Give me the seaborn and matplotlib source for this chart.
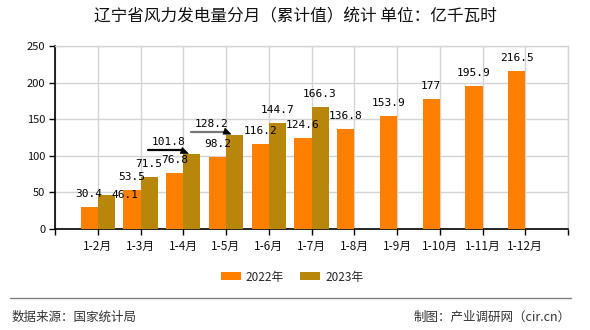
import numpy as np
import pandas as pd
import seaborn as sns
import matplotlib
matplotlib.use("Agg")
import matplotlib.pyplot as plt
from matplotlib.patches import Rectangle, Polygon
from matplotlib.lines import Line2D
from matplotlib.transforms import IdentityTransform

# ---- data ----
categories = ["1-2月", "1-3月", "1-4月", "1-5月", "1-6月", "1-7月",
              "1-8月", "1-9月", "1-10月", "1-11月", "1-12月"]
values_2022 = [30.4, 53.5, 76.8, 98.2, 116.2, 124.6, 136.8, 153.9, 177, 195.9, 216.5]
values_2023 = [46.1, 71.5, 101.8, 128.2, 144.7, 166.3, None, None, None, None, None]
series_names = ["2022年", "2023年"]
label_2022 = ["30.4", "53.5", "76.8", "98.2", "116.2", "124.6", "136.8", "153.9", "177", "195.9", "216.5"]
label_2023 = ["46.1", "71.5", "101.8", "128.2", "144.7", "166.3"]
y_ticks = [0, 50, 100, 150, 200, 250]

title = "辽宁省风力发电量分月（累计值）统计 单位：亿千瓦时"
source_text = "数据来源：国家统计局"
credit_text = "制图：产业调研网（cir.cn）"

colors = ["#FF8000", "#B8860B"]

sns.set_theme(style="white")
plt.rcParams["font.family"] = ["Noto Sans CJK SC", "DejaVu Sans"]

df = pd.DataFrame({
    "month": categories * 2,
    "value": values_2022 + values_2023,
    "year": [series_names[0]] * len(categories) + [series_names[1]] * len(categories),
})

W, H = 590, 330
fig = plt.figure(figsize=(W / 100, H / 100), dpi=100)
ax = fig.add_axes([55 / W, 1 - 229 / H, (568 - 55) / W, (229 - 46) / H])

sns.barplot(data=df, x="month", y="value", hue="year", order=categories,
            hue_order=series_names, palette=colors, width=0.8, gap=0,
            saturation=1, ax=ax, legend=False, zorder=3,
            linewidth=0, edgecolor="none")

ax.set_xlim(-1, len(categories))
ax.set_ylim(0, 250)
ax.set_yticks(y_ticks)
ax.set_yticklabels([str(v) for v in y_ticks], fontsize=8, color="#111111")
ax.set_xticks(range(-1, len(categories) + 1))
ax.set_xticklabels([""] + categories + [""], fontsize=8.5, color="#111111")
ax.set_xlabel("")
ax.set_ylabel("")
ax.tick_params(axis="both", direction="out", length=4, width=1, color="#000000", pad=3)
ax.tick_params(axis="x", pad=4)
ax.tick_params(left=True, bottom=True)

ax.grid(True, color="#d4d4d4", linewidth=1, zorder=0)
ax.set_axisbelow(True)
for s in ["top", "right"]:
    ax.spines[s].set_color("#d4d4d4")
    ax.spines[s].set_linewidth(1)
for s in ["left", "bottom"]:
    ax.spines[s].set_color("#000000")
    ax.spines[s].set_linewidth(1.2)

# value labels
px = 72 / 100  # points per pixel
bars_2022 = ax.containers[0]
bars_2023 = ax.containers[1]
lab_font = dict(family="DejaVu Sans Mono", fontsize=8, color="#000000",
                ha="center", va="center", zorder=5)
for bar, txt in zip(bars_2022, label_2022):
    cx = bar.get_x() + bar.get_width() / 2
    ax.annotate(txt, (cx, bar.get_height()), xytext=(0, 13 * px),
                textcoords="offset points", **lab_font)

offsets_2023 = [(19, 0), (0, 13), (-23, 12), (-23, 11), (0, 13), (0, 13)]
valid_2023 = [b for b in bars_2023 if not np.isnan(b.get_height()) and b.get_height() > 0]
for bar, txt, (dx, dy) in zip(valid_2023, label_2023, offsets_2023):
    cx = bar.get_x() + bar.get_width() / 2
    ax.annotate(txt, (cx, bar.get_height()), xytext=(dx * px, dy * px),
                textcoords="offset points", **lab_font)

# leader lines for displaced labels (display-pixel offsets from bar top-left)
leaders = [(2, "#000000", 4), (3, "#777777", 3)]
for idx, lc, up in leaders:
    bar = valid_2023[idx]
    bx, by = ax.transData.transform((bar.get_x(), bar.get_height()))
    fig.add_artist(Line2D([bx - 35, bx], [by + up, by + up], color=lc, linewidth=1.6,
                          transform=IdentityTransform(), zorder=6))
    tri = Polygon([(bx - 1, by + 7), (bx - 3, by + 1), (bx + 5, by + 1)], closed=True,
                  facecolor="#000000", edgecolor="#000000", linewidth=0.5,
                  transform=IdentityTransform(), zorder=7)
    fig.add_artist(tri)

# title
fig.text(0.5, 1 - 17 / H, title, ha="center", va="center", fontsize=12,
         color="#111111")

# legend
handles = [Rectangle((0, 0), 1, 1, facecolor=c, edgecolor="none") for c in colors]
fig.legend(handles, series_names, loc="center", bbox_to_anchor=(292 / W, 1 - 277 / H),
           ncol=2, frameon=False, fontsize=8.5, handlelength=1.7, handleheight=0.65,
           handletextpad=0.4, columnspacing=1.4)

# footer
fig.add_artist(Line2D([10 / W, 571 / W], [1 - 298 / H, 1 - 298 / H], color="#808080",
                      linewidth=1))
fig.text(12 / W, 1 - 317 / H, source_text, ha="left", va="center", fontsize=9,
         color="#333333")
fig.text(571 / W, 1 - 317 / H, credit_text, ha="right", va="center", fontsize=9,
         color="#333333")

fig.savefig("out.png", dpi=100)
